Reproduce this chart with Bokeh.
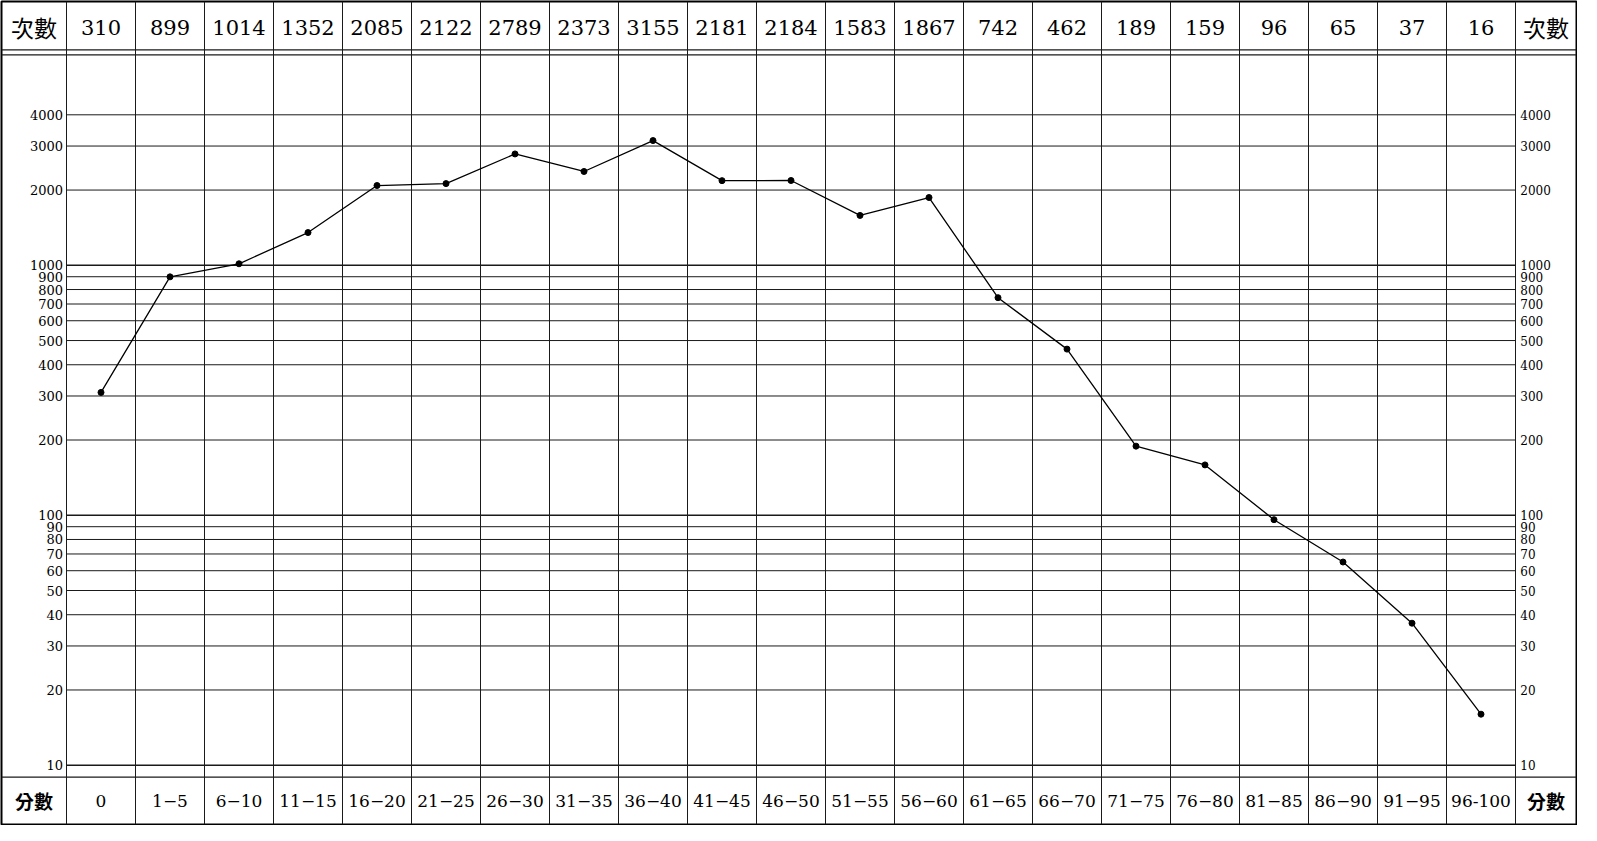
from bokeh.plotting import figure
from bokeh.models import Range1d, Grid
from bokeh.core.properties import value
from bokeh.embed import file_html
from bokeh.resources import INLINE

# ---- data ----
score_labels = ["0", "1−5", "6−10", "11−15", "16−20", "21−25", "26−30", "31−35",
                "36−40", "41−45", "46−50", "51−55", "56−60", "61−65", "66−70",
                "71−75", "76−80", "81−85", "86−90", "91−95", "96-100"]
counts = [310, 899, 1014, 1352, 2085, 2122, 2789, 2373, 3155, 2181, 2184,
          1583, 1867, 742, 462, 189, 159, 96, 65, 37, 16]
y_ticks = [10, 20, 30, 40, 50, 60, 70, 80, 90, 100,
           200, 300, 400, 500, 600, 700, 800, 900, 1000,
           2000, 3000, 4000]
row_title_top = "次數"
row_title_bottom = "分數"

# ---- geometry helpers (reference pixel rows -> log data values) ----
PX_PER_DECADE = 253.0
Y_OF_1000 = 273.0


def yref(py):
    return 10 ** (3 + (Y_OF_1000 - py) / PX_PER_DECADE)


n = len(counts)
idx = list(range(n))
COL_W = 69.0
x_left = -0.5 - 65.0 / COL_W
x_right = (n - 0.5) + 61.0 / COL_W

SERIF = value("DejaVu Serif")
CJK = value("Noto Sans CJK TC")

p = figure(width=1577, height=825,
           x_range=Range1d(x_left, x_right),
           y_range=Range1d(yref(839), yref(6)),
           y_axis_type="log", x_axis_location=None, y_axis_location=None,
           output_backend="svg", toolbar_location=None,
           min_border_left=1, min_border_right=1, min_border_top=1, min_border_bottom=1)
p.outline_line_color = "black"
p.outline_line_width = 2
p.background_fill_color = "white"
p.border_fill_color = "white"
for g in p.select(type=Grid):
    g.visible = False
p.center = [r for r in p.center if not isinstance(r, Grid)]

ytop, ybot = yref(6), yref(839)

# vertical column lines through whole table
xs = [i - 0.5 for i in range(n + 1)]
p.segment(x0=xs, y0=[ybot] * len(xs), x1=xs, y1=[ytop] * len(xs),
          line_color="#1a1a1a", line_width=1)

# header double rule and footer rule
for py in (55, 60, 791):
    p.segment(x0=[x_left], y0=[yref(py)], x1=[x_right], y1=[yref(py)],
              line_color="#1a1a1a", line_width=1.3)

# horizontal grid lines
gw = [1.6 if t in (10, 100, 1000) else 1.0 for t in y_ticks]
p.segment(x0=[-0.5] * len(y_ticks), y0=y_ticks, x1=[n - 0.5] * len(y_ticks), y1=y_ticks,
          line_color="#1a1a1a", line_width=gw)

# y tick labels left and right
tick_text = [str(t) for t in y_ticks]
p.text(x=[-0.55] * len(y_ticks), y=y_ticks, text=tick_text,
       text_align="right", text_baseline="middle", text_font=SERIF,
       text_font_size="13px", text_color="black")
p.text(x=[n - 0.5 + 0.07] * len(y_ticks), y=y_ticks, text=tick_text,
       text_align="left", text_baseline="middle", text_font=SERIF,
       text_font_size="12px", text_color="black")

# header counts
p.text(x=idx, y=[yref(32)] * n, text=[str(c) for c in counts],
       text_align="center", text_baseline="middle", text_font=SERIF,
       text_font_size="21px", text_color="black")
# footer score labels
p.text(x=idx, y=[yref(815)] * n, text=score_labels,
       text_align="center", text_baseline="middle", text_font=SERIF,
       text_font_size="17px", text_color="black")

# row titles
left_c = (x_left + -0.5) / 2
right_c = (n - 0.5 + x_right) / 2
p.text(x=[left_c, right_c], y=[yref(32)] * 2, text=[row_title_top] * 2,
       text_align="center", text_baseline="middle", text_font=CJK,
       text_font_size="23px", text_color="black")
p.text(x=[left_c, right_c], y=[yref(815)] * 2, text=[row_title_bottom] * 2,
       text_align="center", text_baseline="middle", text_font=CJK,
       text_font_size="19px", text_font_style="bold", text_color="black")

# data line
p.line(x=idx, y=counts, line_color="black", line_width=1.3)
p.scatter(x=idx, y=counts, size=6, marker="circle", fill_color="black", line_color="black")

open("out.html", "w").write(file_html(p, INLINE))
